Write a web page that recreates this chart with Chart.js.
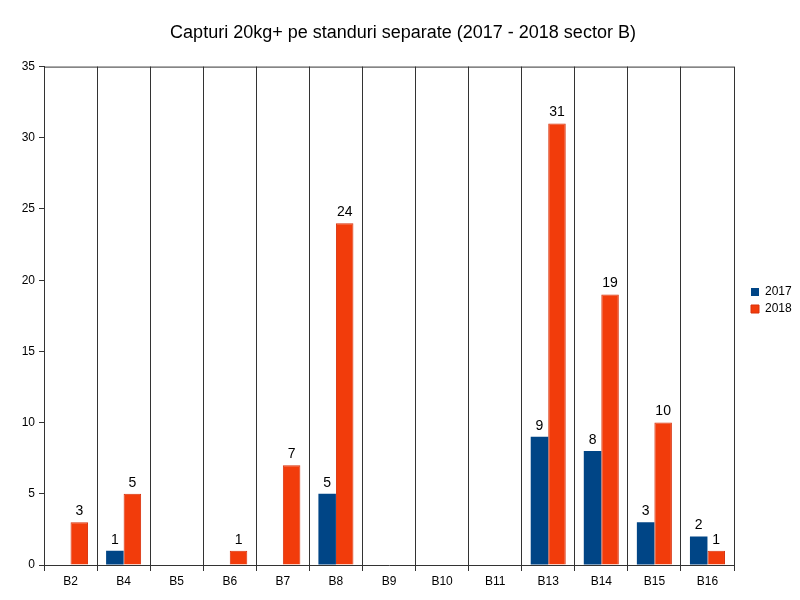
<!DOCTYPE html>
<html lang="ro">
<head>
  <meta charset="UTF-8" />
  <title>Capturi 20kg+</title>
  <script src="https://cdn.jsdelivr.net/npm/chart.js"></script>
  <style>
    body { margin: 0; background: #fff; }
    #wrap { width: 800px; height: 600px; }
  </style>
</head>
<body>
<div id="wrap"><canvas id="chart" width="800" height="600"></canvas></div>
<script>
  const standuri = ['B2', 'B4', 'B5', 'B6', 'B7', 'B8', 'B9', 'B10', 'B11', 'B13', 'B14', 'B15', 'B16'];
  const capturi2017 = [null, 1, null, null, null, 5, null, null, null, 9, 8, 3, 2];
  const capturi2018 = [3, 5, null, 1, 7, 24, null, null, null, 31, 19, 10, 1];
  const yTicks = [0, 5, 10, 15, 20, 25, 30, 35];

  // numbers above bars
  const valueLabels = {
    id: 'valueLabels',
    afterDatasetsDraw(chart) {
      const ctx = chart.ctx;
      ctx.save();
      ctx.font = '14px "Liberation Sans", Arial, sans-serif';
      ctx.fillStyle = '#000';
      ctx.textAlign = 'center';
      ctx.textBaseline = 'bottom';
      chart.data.datasets.forEach((ds, i) => {
        chart.getDatasetMeta(i).data.forEach((bar, j) => {
          if (ds.data[j] == null) return;
          ctx.fillText(ds.data[j], bar.x, bar.y - 4);
        });
      });
      ctx.restore();
    }
  };

  // top border of the plot + legend/title placement
  const frame = {
    id: 'frame',
    afterInit(chart) {
      const lg = chart.legend;
      const fit = lg.fit;
      lg.fit = function () { fit.call(this); this.width = 66; };
    },
    afterLayout(chart) {
      chart.legend.left += 12;
      chart.legend.top += 1;
      chart.titleBlock.left += 3;
      chart.titleBlock.right += 3;
    },
    afterDraw(chart) {
      const a = chart.chartArea, ctx = chart.ctx;
      ctx.save();
      ctx.strokeStyle = '#333';
      ctx.lineWidth = 1;
      ctx.beginPath();
      ctx.moveTo(a.left, a.top + 0.5);
      ctx.lineTo(a.right, a.top + 0.5);
      ctx.stroke();
      ctx.restore();
    }
  };

  Chart.defaults.font.family = '"Liberation Sans", Arial, sans-serif';
  Chart.defaults.color = '#000';

  new Chart(document.getElementById('chart'), {
    type: 'bar',
    data: {
      labels: standuri,
      datasets: [
        { label: '2017', data: capturi2017, backgroundColor: '#004586' },
        { label: '2018', data: capturi2018, backgroundColor: '#f23c0b', borderColor: '#d8300a', borderWidth: 1 }
      ]
    },
    options: {
      responsive: false,
      animation: false,
      categoryPercentage: 0.66,
      barPercentage: 1,
      layout: { padding: 0 },
      plugins: {
        title: {
          display: true,
          text: 'Capturi 20kg+ pe standuri separate (2017 - 2018 sector B)',
          font: { size: 18, weight: 'normal' },
          color: '#000',
          padding: { top: 22, bottom: 23 }
        },
        legend: {
          position: 'right',
          labels: { boxWidth: 8, boxHeight: 8, font: { size: 12 }, padding: 5 }
        },
        tooltip: { enabled: false }
      },
      scales: {
        x: {
          offset: true,
          grid: { offset: true, color: '#333', drawTicks: true, tickLength: 6 },
          border: { color: '#333' },
          ticks: { font: { size: 12 }, color: '#000', padding: 3 },
          afterFit: s => { s.height = 35; }
        },
        y: {
          min: 0,
          max: 35,
          afterBuildTicks: s => { s.ticks = yTicks.map(v => ({ value: v })); },
          grid: { drawOnChartArea: false, color: '#333', tickLength: 5 },
          border: { color: '#333' },
          ticks: { font: { size: 12 }, color: '#000', padding: 4 },
          afterFit: s => { s.width = 44; }
        }
      }
    },
    plugins: [valueLabels, frame]
  });
</script>
</body>
</html>
